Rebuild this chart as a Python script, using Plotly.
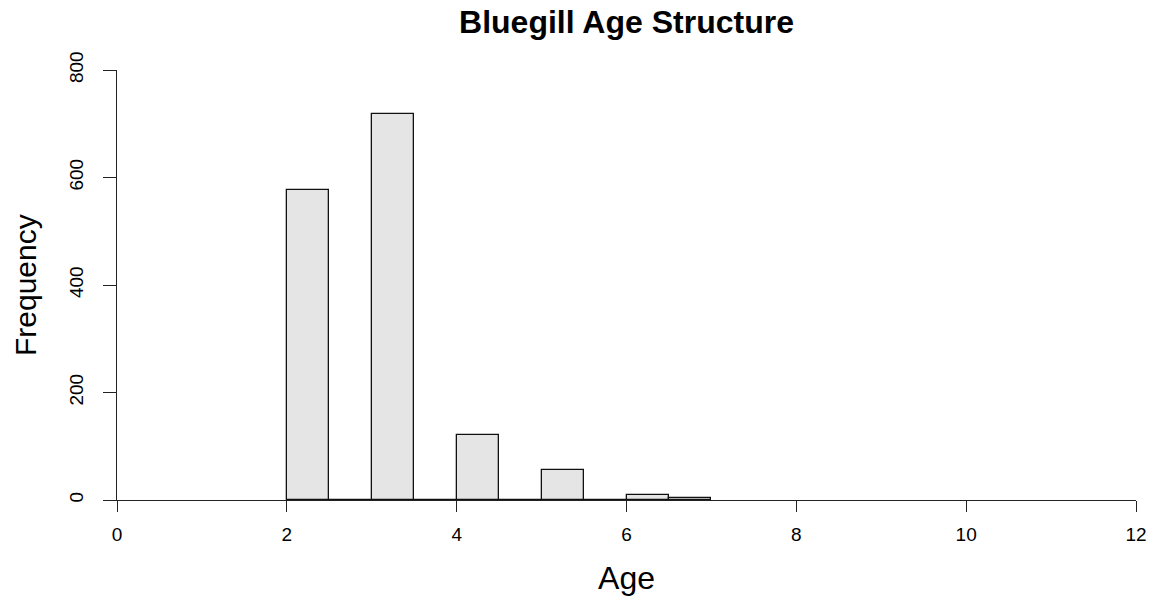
import plotly.graph_objects as go

# Histogram of bluegill ages, 0.5-year bins
bin_left = [2.0, 2.5, 3.0, 3.5, 4.0, 4.5, 5.0, 5.5, 6.0, 6.5]
counts = [577, 0, 719, 0, 121, 0, 56, 0, 9, 4]
bin_width = 0.5

x_ticks = [0, 2, 4, 6, 8, 10, 12]
y_ticks = [0, 200, 400, 600, 800]

FONT = "Liberation Sans, Arial, sans-serif"
AXIS_COLOR = "#222222"

ML, MR, MT, MB = 117, 18, 70, 100
W, H = 1154, 600
plot_w = W - ML - MR

fig = go.Figure(
    go.Bar(
        x=[b + bin_width / 2 for b in bin_left],
        y=counts,
        width=bin_width,
        marker=dict(color="#e5e5e5", line=dict(color="#111111", width=1.3)),
        hoverinfo="x+y",
    )
)

fig.update_layout(
    width=W,
    height=H,
    paper_bgcolor="white",
    plot_bgcolor="white",
    margin=dict(l=ML, r=MR, t=MT, b=MB, autoexpand=False),
    showlegend=False,
    bargap=0,
    title=dict(
        text="<b>Bluegill Age Structure</b>",
        font=dict(family=FONT, size=32, color="black"),
        x=626.5 / W,
        xanchor="center",
        y=1 - 22 / H,
        yanchor="middle",
        xref="container",
        yref="container",
    ),
    annotations=[
        dict(
            text="Frequency",
            textangle=-90,
            font=dict(family=FONT, size=30, color="black"),
            xref="paper",
            yref="paper",
            x=(25 - ML) / plot_w,
            y=0.5,
            xanchor="center",
            yanchor="middle",
            showarrow=False,
        )
    ],
)

fig.update_xaxes(
    range=[0, 12],
    tickvals=x_ticks,
    ticktext=[str(v) for v in x_ticks],
    ticks="outside",
    ticklen=11,
    tickwidth=1.3,
    tickcolor=AXIS_COLOR,
    showline=True,
    linecolor=AXIS_COLOR,
    linewidth=1.3,
    showgrid=False,
    zeroline=False,
    automargin=False,
    tickfont=dict(family=FONT, size=19, color="black"),
    ticklabelstandoff=6,
    title=dict(text="Age", font=dict(family=FONT, size=32, color="black"), standoff=22),
)

fig.update_yaxes(
    range=[0, 800],
    tickvals=y_ticks,
    ticktext=[str(v) for v in y_ticks],
    tickangle=-90,
    ticks="outside",
    ticklen=13,
    tickwidth=1.3,
    tickcolor=AXIS_COLOR,
    showline=True,
    linecolor=AXIS_COLOR,
    linewidth=1.3,
    showgrid=False,
    zeroline=False,
    automargin=False,
    tickfont=dict(family=FONT, size=19, color="black"),
    ticklabelstandoff=12,
)

fig.write_html("out.html")
